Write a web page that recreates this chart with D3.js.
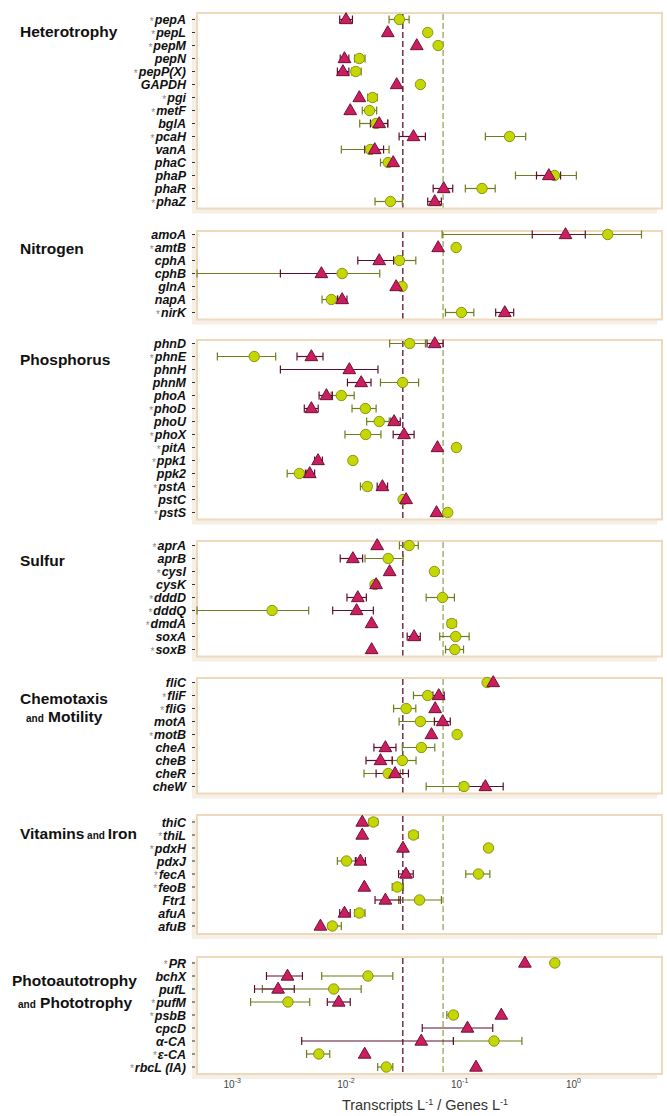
<!DOCTYPE html>
<html>
<head>
<meta charset="utf-8">
<style>
body { margin: 0; background: #fff; }
text { font-family: "Liberation Sans", Arial, sans-serif; }
</style>
</head>
<body>
<script src="https://d3js.org/d3.v7.min.js"></script>
<script>
// groups and their gene rows
var groups = ["Heterotrophy", "Nitrogen", "Phosphorus", "Sulfur", "Chemotaxis and Motility", "Vitamins and Iron", "Photoautotrophy and Phototrophy"];
var groupSize = [15, 7, 14, 9, 9, 9, 9];

var genes = ["pepA","pepL","pepM","pepN","pepP(X)","GAPDH","pgi","metF","bglA","pcaH","vanA","phaC","phaP","phaR","phaZ",
  "amoA","amtB","cphA","cphB","glnA","napA","nirK",
  "phnD","phnE","phnH","phnM","phoA","phoD","phoU","phoX","pitA","ppk1","ppk2","pstA","pstC","pstS",
  "aprA","aprB","cysI","cysK","dddD","dddQ","dmdA","soxA","soxB",
  "fliC","fliF","fliG","motA","motB","cheA","cheB","cheR","cheW",
  "thiC","thiL","pdxH","pdxJ","fecA","feoB","Ftr1","afuA","afuB",
  "PR","bchX","pufL","pufM","psbB","cpcD","α-CA","ε-CA","rbcL (IA)"];

var starred = [1,1,1,0,1,0,1,1,0,1,0,0,0,0,1,
  0,1,0,0,0,0,1,
  0,1,0,0,0,1,0,1,1,1,0,1,0,1,
  1,0,1,0,1,1,1,0,1,
  0,1,1,0,1,0,0,0,0,
  0,1,1,0,1,1,0,0,0,
  1,0,0,1,1,0,0,1,1];

// triangles
var triMean = [0.0100,0.0233,0.0419,0.0097,0.0094,0.0279,0.0131,0.0109,0.0196,0.0392,0.0179,0.0260,0.607,0.0723,0.0603,
  0.851,0.0646,0.0196,0.00608,0.0276,0.00925,0.249,
  0.0603,0.00496,0.0107,0.0136,0.00673,0.00496,0.0265,0.0324,0.0637,0.00568,0.0048,0.0209,0.0338,0.0625,
  0.0188,0.0115,0.0242,0.0184,0.0127,0.0124,0.0168,0.0397,0.0168,
  0.197,0.0654,0.0608,0.0708,0.0564,0.0222,0.0201,0.0270,0.168,
  0.0139,0.0139,0.0317,0.0134,0.0337,0.0145,0.0222,0.0097,0.00596,
  0.374,0.00306,0.00253,0.00863,0.232,0.117,0.0459,0.0146,0.139];
var triLo = [0.0088,null,null,0.0089,0.0084,null,null,null,0.0164,0.0293,0.0146,null,0.473,0.0584,0.0523,
  0.434,null,0.0127,0.00265,null,0.0084,0.207,
  0.0516,0.00371,0.00265,0.0103,0.0058,0.0043,0.0248,0.0260,null,0.0053,0.0044,0.0188,null,null,
  null,0.0089,null,null,0.0102,0.00764,null,0.0345,null,
  null,0.058,null,0.0599,null,0.0176,0.0150,0.0184,0.100,
  null,null,null,0.0121,0.029,null,0.018,0.0088,null,
  null,0.0020,0.00157,0.00685,null,0.0468,0.00408,null,null];
var triHi = [0.0114,null,null,0.0106,0.0106,null,null,null,0.0233,0.0499,0.0214,null,0.77,0.0868,0.0689,
  1.27,null,0.0262,0.0099,null,0.0102,0.298,
  0.0714,0.00628,0.0191,0.0166,0.0076,0.0057,0.0300,0.0397,null,0.0062,0.0053,0.0232,null,null,
  null,0.0140,null,null,0.0151,0.0174,null,0.0450,null,
  null,0.073,null,0.0826,null,0.0275,0.0255,0.0354,0.241,
  null,null,null,0.0148,0.039,null,0.030,0.0109,null,
  null,0.00414,0.00351,0.0109,null,0.195,0.088,null,null];

// circles
var cirMean = [0.0295,0.0523,0.0646,0.0131,0.0122,0.0451,0.0171,0.0161,0.0184,0.274,0.0164,0.0235,0.681,0.157,0.0246,
  2.0,0.093,0.0295,0.00925,0.0311,0.00744,0.1035,
  0.0363,0.00156,null,0.0315,0.0091,0.0148,0.0196,0.0149,0.0935,0.0115,0.00389,0.0154,0.0318,0.0784,
  0.0359,0.0235,0.0599,0.0180,0.0705,0.00224,0.0851,0.0922,0.0905,
  0.174,0.0523,0.0338,0.0451,0.0949,0.0460,0.0313,0.0235,0.109,
  0.0174,0.0392,0.179,0.0101,0.146,0.0283,0.0443,0.0131,0.00759,
  0.685,0.0156,0.0078,0.00309,0.088,null,0.200,0.00577,0.0226];
var cirLo = [0.0239,null,null,0.0119,0.0112,null,0.0155,0.0139,0.0132,0.168,0.0091,0.0201,0.309,0.112,0.0180,
  0.070,0.089,0.0262,0.0002,null,0.00616,0.0749,
  0.0242,0.00074,null,0.0201,0.0074,0.0113,0.0152,0.0098,0.0875,0.0110,0.00304,0.0134,null,null,
  0.0295,0.0147,0.058,0.0172,0.0507,0.0002,0.0780,0.0667,0.0750,
  0.168,0.0392,0.0262,0.0293,0.091,0.0313,0.0255,0.0144,0.0507,
  0.0160,0.036,0.175,0.0084,0.113,0.0255,0.029,0.0119,0.0070,
  null,0.00612,0.00184,0.00145,0.077,null,0.088,0.0045,0.0190];
var cirHi = [0.0359,null,null,0.0147,0.0136,null,0.0188,0.0186,0.0233,0.380,0.0239,0.0262,1.06,0.205,0.0313,
  3.96,0.097,0.0411,0.0198,null,0.0085,0.133,
  0.0499,0.00241,null,0.0435,0.0118,0.0184,0.0240,0.0203,0.100,0.0122,0.0045,0.0167,null,null,
  0.0432,0.0318,0.0618,0.0190,0.0898,0.0047,0.0930,0.121,0.108,
  0.18,0.0667,0.0411,0.0600,0.099,0.0603,0.0413,0.030,0.160,
  0.0190,0.043,0.183,0.0124,0.184,0.032,0.069,0.0147,0.0091,
  null,0.0258,0.0136,0.0048,0.095,null,0.352,0.0072,0.0258];

var medianTri = 0.0316, medianCir = 0.0714;
var xTicks = [0.001, 0.01, 0.1, 1];

// layout
var W = 667, H = 1116;
var panelTop = [13, 231, 340, 541, 678, 815, 957];
var padTop = [6.5, 3.5, 3.5, 4.5, 4.5, 7, 6];
var padBot = [7, 7, 7, 7, 7, 8, 7];
var rowStep = 13;

var svg = d3.select("body").append("svg").attr("width", W).attr("height", H);

var x = d3.scaleLog().domain([4.9e-4, 6.0]).range([197, 662]).clamp(true);

var triColor = "#cc1d60", triStroke = "#6e1236", triErr = "#5b0f2e";
var cirColor = "#c5d600", cirStroke = "#86961e", cirErr = "#6e7d1c";

var triSym = d3.symbol().type(d3.symbolTriangle).size(70);

var start = 0;
groups.forEach(function(g, gi) {
  var n = groupSize[gi];
  var idx = d3.range(start, start + n);
  start += n;
  var top = panelTop[gi];
  var y0 = top + padTop[gi], y1 = y0 + rowStep * (n - 1);
  var bottom = y1 + padBot[gi];
  var y = d3.scalePoint().domain(idx.map(function(i) { return genes[i]; })).range([y0, y1]);

  var p = svg.append("g");
  // shadow + frame
  p.append("rect").attr("x", x.range()[0] - 5).attr("y", top + 4)
    .attr("width", x.range()[1] - x.range()[0]).attr("height", bottom - top + 1)
    .attr("fill", "#f5efe6");
  p.append("rect").attr("x", x.range()[0]).attr("y", top)
    .attr("width", x.range()[1] - x.range()[0]).attr("height", bottom - top)
    .attr("fill", "#fff").attr("stroke", "#efd9bc").attr("stroke-width", 2);

  // median lines
  p.append("line").attr("x1", x(medianTri)).attr("x2", x(medianTri)).attr("y1", top + 1).attr("y2", bottom - 1)
    .attr("stroke", "#5b1030").attr("stroke-width", 1.3).attr("stroke-dasharray", "6,3");
  p.append("line").attr("x1", x(medianCir)).attr("x2", x(medianCir)).attr("y1", top + 1).attr("y2", bottom - 1)
    .attr("stroke", "#a3b26c").attr("stroke-width", 1.5).attr("stroke-dasharray", "6,3");

  // y ticks + labels
  idx.forEach(function(i) {
    var yy = y(genes[i]);
    p.append("line").attr("x1", 192).attr("x2", 195).attr("y1", yy).attr("y2", yy).attr("stroke", "#333");
    var t = p.append("text").attr("x", 186).attr("y", yy + 4.5).attr("text-anchor", "end")
      .style("font-size", "12.5px").style("font-weight", "bold").style("font-style", "italic").attr("fill", "#111")
      .text(genes[i]);
    if (starred[i]) {
      var w = t.node().getComputedTextLength();
      p.append("text").attr("x", 186 - w - 1).attr("y", yy + 5).attr("text-anchor", "end")
        .style("font-size", "10px").attr("fill", "#888").text("*");
    }
  });

  // error bars
  function errBar(lo, hi, yy, col) {
    if (lo == null || hi == null) return;
    p.append("line").attr("x1", x(lo)).attr("x2", x(hi)).attr("y1", yy).attr("y2", yy).attr("stroke", col).attr("stroke-width", 1.2);
    [lo, hi].forEach(function(v) {
      p.append("line").attr("x1", x(v)).attr("x2", x(v)).attr("y1", yy - 4).attr("y2", yy + 4).attr("stroke", col).attr("stroke-width", 1.2);
    });
  }
  idx.forEach(function(i) {
    var yy = y(genes[i]);
    errBar(cirLo[i], cirHi[i], yy, cirErr);
    errBar(triLo[i], triHi[i], yy, triErr);
  });
  idx.forEach(function(i) {
    if (cirMean[i] == null) return;
    p.append("circle").attr("cx", x(cirMean[i])).attr("cy", y(genes[i])).attr("r", 5.2)
      .attr("fill", cirColor).attr("stroke", cirStroke).attr("stroke-width", 1);
  });
  idx.forEach(function(i) {
    if (triMean[i] == null) return;
    p.append("path").attr("d", triSym)
      .attr("transform", "translate(" + x(triMean[i]) + "," + (y(genes[i]) + 0.5) + ")")
      .attr("fill", triColor).attr("stroke", triStroke).attr("stroke-width", 1);
  });
});

// group titles
function title(lines, xx, yy) {
  lines.forEach(function(parts, li) {
    var t = svg.append("text").attr("x", xx[li]).attr("y", yy[li]).attr("fill", "#111")
      .style("font-weight", "bold").style("font-size", "15.5px");
    parts.forEach(function(s) {
      var sp = t.append("tspan").text(s);
      if (s.trim() == "and") sp.style("font-size", "10px");
    });
  });
}
title([["Heterotrophy"]], [20], [37]);
title([["Nitrogen"]], [20], [254]);
title([["Phosphorus"]], [20], [365]);
title([["Sulfur"]], [20], [566]);
title([["Chemotaxis"], ["and", " Motility"]], [20, 26], [704, 722]);
title([["Vitamins", " and ", "Iron"]], [20], [839]);
title([["Photoautotrophy"], ["and", " Phototrophy"]], [12, 18], [986, 1008]);

// x axis labels
var ax = svg.append("g");
xTicks.forEach(function(v) {
  var t = ax.append("text").attr("x", x(v)).attr("y", 1088).attr("text-anchor", "middle")
    .attr("fill", "#444").style("font-size", "10px");
  t.append("tspan").text("10");
  t.append("tspan").text(String(Math.round(Math.log10(v)))).attr("dy", -5).style("font-size", "7px");
});
var xt = svg.append("text").attr("x", 425).attr("y", 1110).attr("text-anchor", "middle")
  .attr("fill", "#333").style("font-size", "14.5px");
xt.append("tspan").text("Transcripts L");
xt.append("tspan").text("-1").attr("dy", -5).style("font-size", "9px");
xt.append("tspan").text(" / Genes L").attr("dy", 5);
xt.append("tspan").text("-1").attr("dy", -5).style("font-size", "9px");
</script>
</body>
</html>
